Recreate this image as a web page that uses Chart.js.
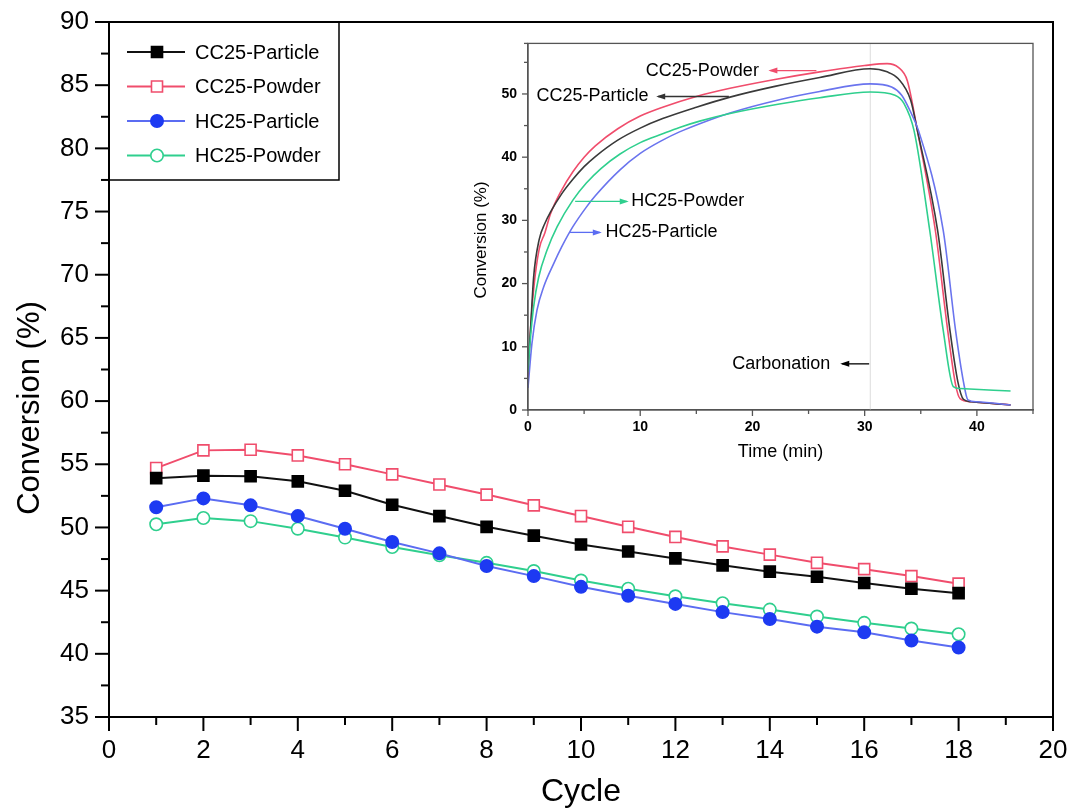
<!DOCTYPE html>
<html>
<head>
<meta charset="utf-8">
<script src="https://cdn.jsdelivr.net/npm/chart.js@4.4.0/dist/chart.umd.min.js"></script>
<style>
html, body { margin: 0; padding: 0; background: #fff; }
#wrap { position: relative; width: 1072px; height: 810px; }
#main { position: absolute; left: 0; top: 0; }
#inset { position: absolute; left: 460px; top: 30px; }
</style>
</head>
<body>
<div id="wrap">
  <canvas id="main" width="1072" height="810"></canvas>
  <canvas id="inset" width="590" height="440"></canvas>
</div>
<script>
// main chart: conversion per cycle
const cycles = [1, 2, 3, 4, 5, 6, 7, 8, 9, 10, 11, 12, 13, 14, 15, 16, 17, 18];
const cc25Particle = [53.9, 54.1, 54.05, 53.65, 52.9, 51.8, 50.9, 50.05, 49.35, 48.65, 48.1, 47.55, 47.0, 46.5, 46.1, 45.6, 45.15, 44.8];
const cc25Powder = [54.7, 56.1, 56.15, 55.7, 55.0, 54.2, 53.4, 52.6, 51.75, 50.9, 50.05, 49.25, 48.5, 47.85, 47.2, 46.7, 46.15, 45.55];
const hc25Particle = [51.6, 52.3, 51.75, 50.9, 49.9, 48.85, 47.95, 46.95, 46.15, 45.3, 44.6, 43.95, 43.3, 42.75, 42.15, 41.7, 41.05, 40.5];
const hc25Powder = [50.25, 50.75, 50.5, 49.9, 49.2, 48.45, 47.8, 47.2, 46.55, 45.8, 45.15, 44.55, 44.0, 43.5, 42.95, 42.45, 42.0, 41.55];

// inset: conversion vs time (min)
const cc25PowderT = [0, 0.2, 0.5, 1, 1.5, 2, 3, 4, 5, 6, 8, 10, 12, 15, 18, 22, 26, 30, 32, 33, 33.8, 34.7, 36.3, 37.4, 38.1, 38.5, 39.5, 43];
const cc25PowderV = [5, 12, 19, 25.5, 28, 31, 34.8, 37.7, 40, 41.8, 44.5, 46.5, 47.9, 49.6, 50.9, 52.3, 53.5, 54.5, 54.8, 54.2, 52.1, 44.2, 28.4, 12.6, 4, 1.8, 1.3, 0.8];
const cc25ParticleT = [0, 0.2, 0.5, 1, 1.5, 2, 3, 4, 5, 6, 8, 10, 12, 15, 18, 22, 26, 30.5, 32, 33, 34.1, 34.7, 36.5, 37.6, 38.3, 38.8, 39.5, 43];
const cc25ParticleV = [7, 12, 21, 27, 29.5, 31.3, 34.2, 36.5, 38.5, 40.1, 42.7, 44.6, 46.1, 47.9, 49.5, 51.2, 52.6, 54.0, 53.5, 52.4, 49, 44.2, 28.4, 12.6, 4.5, 1.7, 1.3, 0.8];
const hc25ParticleT = [0, 0.35, 0.8, 1.4, 2.3, 3, 4, 5.2, 6, 8.2, 10, 12, 13.5, 15.3, 18, 22.4, 26, 30.5, 32.4, 33.3, 34, 34.8, 37, 38.1, 38.8, 39.2, 40, 43];
const hc25ParticleV = [3.5, 10.5, 15.8, 19.5, 23.2, 25.8, 29, 32.1, 33.9, 38.0, 40.6, 42.7, 44.0, 45.3, 47.0, 49.1, 50.4, 51.6, 51.1, 49.8, 47.5, 44.2, 28.4, 12.6, 4.5, 1.6, 1.3, 0.8];
const hc25PowderT = [0, 0.2, 0.5, 0.95, 1.7, 2.6, 4, 5.2, 6.5, 8.2, 10, 12, 13.5, 15.3, 18, 22.4, 26, 30.5, 32.7, 33.5, 34.4, 35.8, 37, 37.9, 38.5, 43];
const hc25PowderV = [6, 11, 16.3, 21, 25.3, 29, 33.2, 35.9, 38.2, 40.5, 42.3, 43.7, 44.7, 45.7, 46.9, 48.4, 49.4, 50.3, 49.8, 48.5, 44.2, 28.4, 12.6, 3.7, 3.4, 3.0];
const carbonationEnd = 30.5;

const FONT = "'Liberation Sans', Arial, sans-serif";

const RED = '#f04d6c';
const BLUE_LINE = '#5b6cf2';
const BLUE_DOT = '#1d3af2';
const GREEN = '#2fcf8e';

function pts(xs, ys) {
    return xs.map((x, i) => ({ x: x, y: ys[i] }));
}

function cycleSeries(label, values, color, dotColor, fill, style) {
    return {
        label: label,
        data: pts(cycles, values),
        borderColor: color,
        backgroundColor: fill,
        pointBorderColor: dotColor,
        pointBackgroundColor: fill,
        pointStyle: style,
        pointRadius: style === 'rect' ? 7.8 : 6.2,
        pointBorderWidth: 1.6,
        borderWidth: 2,
        tension: 0
    };
}

function line(ctx, x1, y1, x2, y2) {
    ctx.beginPath();
    ctx.moveTo(x1, y1);
    ctx.lineTo(x2, y2);
    ctx.stroke();
}

function marker(ctx, ds, x, y) {
    ctx.save();
    ctx.fillStyle = ds.pointBackgroundColor;
    ctx.strokeStyle = ds.pointBorderColor;
    ctx.lineWidth = ds.pointBorderWidth;
    ctx.beginPath();
    if (ds.pointStyle === 'rect') {
        const s = ds.pointRadius * Math.SQRT1_2;
        ctx.rect(x - s, y - s, 2 * s, 2 * s);
    } else {
        ctx.arc(x, y, ds.pointRadius, 0, Math.PI * 2);
    }
    ctx.fill();
    ctx.stroke();
    ctx.restore();
}

const mainDeco = {
    id: 'mainDeco',
    afterDraw(chart) {
        const ctx = chart.ctx;
        const a = chart.chartArea;
        const x = chart.scales.x, y = chart.scales.y;
        ctx.save();
        ctx.strokeStyle = '#000';
        ctx.lineWidth = 2;
        ctx.strokeRect(a.left, a.top, a.right - a.left, a.bottom - a.top);

        // tick marks, major and minor
        x.ticks.forEach(t => {
            const px = x.getPixelForValue(t.value);
            line(ctx, px, a.bottom, px, a.bottom + (t.value % 2 === 0 ? 14 : 8));
        });
        y.ticks.forEach(t => {
            const py = y.getPixelForValue(t.value);
            line(ctx, a.left, py, a.left - (t.value % 5 === 0 ? 14 : 8), py);
        });

        // legend box
        ctx.lineWidth = 1.5;
        ctx.strokeRect(a.left, a.top, 230, 158);
        ctx.font = '20px ' + FONT;
        ctx.textBaseline = 'middle';
        ctx.textAlign = 'left';
        chart.data.datasets.forEach((ds, i) => {
            const ly = a.top + 30 + i * 34.5;
            ctx.strokeStyle = ds.borderColor;
            ctx.lineWidth = 2;
            line(ctx, a.left + 18, ly, a.left + 76, ly);
            marker(ctx, ds, a.left + 48, ly);
            ctx.fillStyle = '#000';
            ctx.fillText(ds.label, a.left + 86, ly + 1);
        });

        // axis titles
        ctx.fillStyle = '#000';
        ctx.font = '32px ' + FONT;
        ctx.textAlign = 'center';
        ctx.fillText('Cycle', (a.left + a.right) / 2, 792);
        ctx.save();
        ctx.translate(30, 408);
        ctx.rotate(-Math.PI / 2);
        ctx.font = '31px ' + FONT;
        ctx.fillText('Conversion (%)', 0, 0);
        ctx.restore();
        ctx.restore();
    }
};

new Chart(document.getElementById('main'), {
    type: 'line',
    data: {
        datasets: [
            cycleSeries('CC25-Particle', cc25Particle, '#111', '#000', '#000', 'rect'),
            cycleSeries('CC25-Powder', cc25Powder, RED, RED, '#fff', 'rect'),
            cycleSeries('HC25-Particle', hc25Particle, BLUE_LINE, BLUE_DOT, BLUE_DOT, 'circle'),
            cycleSeries('HC25-Powder', hc25Powder, GREEN, GREEN, '#fff', 'circle')
        ]
    },
    options: {
        responsive: false,
        animation: false,
        layout: { padding: { top: 22, right: 19, left: 0, bottom: 0 } },
        plugins: { legend: { display: false }, tooltip: { enabled: false } },
        scales: {
            x: {
                type: 'linear', min: 0, max: 20,
                afterFit(s) { s.height = 93; },
                ticks: {
                    stepSize: 1, autoSkip: false, maxRotation: 0, padding: 4,
                    color: '#000', font: { family: FONT, size: 26 },
                    callback: v => (v % 2 === 0 ? v : '')
                },
                grid: { drawOnChartArea: false, tickLength: 14, tickColor: 'rgba(0,0,0,0)' },
                border: { color: '#000', width: 2 }
            },
            y: {
                min: 35, max: 90,
                afterFit(s) { s.width = 109; },
                ticks: {
                    stepSize: 2.5, autoSkip: false, padding: 6,
                    color: '#000', font: { family: FONT, size: 26 },
                    callback: v => (v % 5 === 0 ? v : '')
                },
                grid: { drawOnChartArea: false, tickLength: 14, tickColor: 'rgba(0,0,0,0)' },
                border: { color: '#000', width: 2 }
            }
        }
    },
    plugins: [mainDeco]
});

// ---- inset ----
const notes = [
    { text: 'CC25-Powder', color: RED, tx: 10.5, ty: 53.7, from: 25.7, to: 21.6 },
    { text: 'CC25-Particle', color: '#333', tx: 0.75, ty: 49.6, from: 17.9, to: 11.6 },
    { text: 'HC25-Powder', color: GREEN, tx: 9.2, ty: 33.0, from: 4.2, to: 8.8 },
    { text: 'HC25-Particle', color: BLUE_LINE, tx: 6.9, ty: 28.1, from: 3.75, to: 6.4 },
    { text: 'Carbonation', color: '#000', tx: 18.2, ty: 7.3, from: 30.4, to: 28.0 }
];

function arrow(ctx, x1, x2, y, color) {
    ctx.strokeStyle = color;
    ctx.fillStyle = color;
    ctx.lineWidth = 1.3;
    line(ctx, x1, y, x2, y);
    const d = x2 > x1 ? 1 : -1;
    ctx.beginPath();
    ctx.moveTo(x2 + d * 2, y);
    ctx.lineTo(x2 - d * 7, y - 3);
    ctx.lineTo(x2 - d * 7, y + 3);
    ctx.closePath();
    ctx.fill();
}

const insetDeco = {
    id: 'insetDeco',
    beforeDatasetsDraw(chart) {
        const ctx = chart.ctx;
        const a = chart.chartArea;
        const px = chart.scales.x.getPixelForValue(carbonationEnd);
        ctx.save();
        ctx.strokeStyle = '#dcdcdc';
        ctx.lineWidth = 1;
        line(ctx, px, a.top, px, a.bottom);
        ctx.restore();
    },
    afterDraw(chart) {
        const ctx = chart.ctx;
        const a = chart.chartArea;
        const x = chart.scales.x, y = chart.scales.y;
        ctx.save();
        ctx.strokeStyle = '#555';
        ctx.lineWidth = 1.3;
        ctx.strokeRect(a.left, a.top, a.right - a.left, a.bottom - a.top);
        x.ticks.forEach(t => {
            const p = x.getPixelForValue(t.value);
            line(ctx, p, a.bottom, p, a.bottom + (t.value % 10 === 0 ? 6 : 4));
        });
        y.ticks.forEach(t => {
            const p = y.getPixelForValue(t.value);
            line(ctx, a.left, p, a.left - (t.value % 10 === 0 ? 6 : 4), p);
        });

        ctx.font = '18px ' + FONT;
        ctx.textBaseline = 'middle';
        ctx.textAlign = 'left';
        notes.forEach(n => {
            const yy = y.getPixelForValue(n.ty);
            ctx.fillStyle = '#000';
            ctx.fillText(n.text, x.getPixelForValue(n.tx), yy);
            arrow(ctx, x.getPixelForValue(n.from), x.getPixelForValue(n.to), yy, n.color);
        });

        ctx.fillStyle = '#000';
        ctx.textAlign = 'center';
        ctx.font = '18px ' + FONT;
        ctx.fillText('Time (min)', (a.left + a.right) / 2, 422);
        ctx.save();
        ctx.translate(21, 210);
        ctx.rotate(-Math.PI / 2);
        ctx.font = '17px ' + FONT;
        ctx.fillText('Conversion (%)', 0, 0);
        ctx.restore();
        ctx.restore();
    }
};

function curve(label, xs, ys, color) {
    return {
        label: label,
        data: pts(xs, ys),
        borderColor: color,
        borderWidth: 1.6,
        pointRadius: 0,
        cubicInterpolationMode: 'monotone'
    };
}

new Chart(document.getElementById('inset'), {
    type: 'line',
    data: {
        datasets: [
            curve('HC25-Powder', hc25PowderT, hc25PowderV, GREEN),
            curve('HC25-Particle', hc25ParticleT, hc25ParticleV, '#6a74ee'),
            curve('CC25-Particle', cc25ParticleT, cc25ParticleV, '#3a3a3a'),
            curve('CC25-Powder', cc25PowderT, cc25PowderV, RED)
        ]
    },
    options: {
        responsive: false,
        animation: false,
        layout: { padding: { top: 13, right: 17, left: 0, bottom: 0 } },
        plugins: { legend: { display: false }, tooltip: { enabled: false } },
        scales: {
            x: {
                type: 'linear', min: 0, max: 45,
                afterFit(s) { s.height = 60; },
                ticks: {
                    stepSize: 5, autoSkip: false, maxRotation: 0, padding: 3,
                    color: '#000', font: { family: FONT, size: 14, weight: 'bold' },
                    callback: v => (v % 10 === 0 ? v : '')
                },
                grid: { drawOnChartArea: false, tickLength: 6, tickColor: 'rgba(0,0,0,0)' },
                border: { color: '#555', width: 1.3 }
            },
            y: {
                min: 0, max: 58,
                afterFit(s) { s.width = 68; },
                ticks: {
                    stepSize: 5, autoSkip: false, padding: 5,
                    color: '#000', font: { family: FONT, size: 14, weight: 'bold' },
                    callback: v => (v % 10 === 0 ? v : '')
                },
                grid: { drawOnChartArea: false, tickLength: 6, tickColor: 'rgba(0,0,0,0)' },
                border: { color: '#555', width: 1.3 }
            }
        }
    },
    plugins: [insetDeco]
});
</script>
</body>
</html>
